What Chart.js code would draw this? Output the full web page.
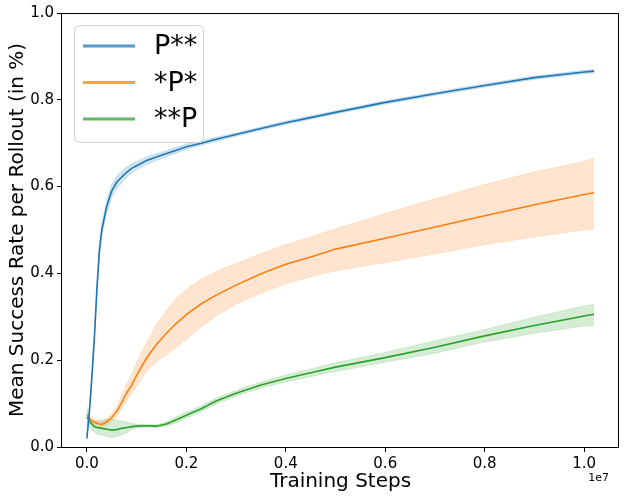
<!DOCTYPE html>
<html>
<head>
<meta charset="utf-8">
<title>Mean Success Rate per Rollout</title>
<script src="https://cdn.jsdelivr.net/npm/chart.js@4.4.1/dist/chart.umd.min.js"></script>
<style>
  html, body { margin: 0; padding: 0; background: #fff; }
  #chart { display: block; }
</style>
</head>
<body>
<canvas id="chart" width="626" height="500"></canvas>
<script>
/* ---------------------------------------------
# DATA
--------------------------------------------- */

const seriesNames = ['P**', '*P*', '**P'];

// training steps (raw)
const steps = [0, 50000, 100000, 150000, 200000, 250000, 300000, 400000, 500000, 600000,
    700000, 800000, 900000, 1000000, 1200000, 1400000, 1600000, 1800000, 2000000, 2300000,
    2600000, 3000000, 3500000, 4000000, 4500000, 5000000, 6000000, 7000000, 8000000,
    9000000, 10000000, 10200000];

// P**
const pMean = [0.02, 0.08, 0.16, 0.25, 0.36, 0.45, 0.50, 0.555, 0.59, 0.61, 0.622, 0.633, 0.642, 0.648,
    0.66, 0.668, 0.676, 0.684, 0.692, 0.70, 0.709, 0.72, 0.734, 0.747, 0.759, 0.771, 0.794, 0.814,
    0.833, 0.851, 0.864, 0.866];
const pHigh = [0.025, 0.09, 0.175, 0.265, 0.375, 0.465, 0.515, 0.57, 0.605, 0.625, 0.636, 0.645, 0.653, 0.658,
    0.669, 0.676, 0.683, 0.691, 0.698, 0.705, 0.714, 0.724, 0.738, 0.751, 0.763, 0.775, 0.798, 0.818,
    0.837, 0.855, 0.868, 0.87];
const pLow = [0.015, 0.07, 0.145, 0.235, 0.345, 0.435, 0.485, 0.54, 0.575, 0.595, 0.608, 0.621, 0.631, 0.638,
    0.651, 0.66, 0.669, 0.677, 0.686, 0.695, 0.704, 0.716, 0.73, 0.743, 0.755, 0.767, 0.79, 0.81,
    0.829, 0.847, 0.86, 0.862];

// *P*
const mMean = [0.075, 0.065, 0.06, 0.057, 0.055, 0.053, 0.052, 0.058, 0.068, 0.082, 0.102, 0.125, 0.142, 0.165,
    0.205, 0.236, 0.262, 0.285, 0.305, 0.33, 0.35, 0.373, 0.399, 0.421, 0.438, 0.456, 0.481, 0.507,
    0.533, 0.558, 0.582, 0.586];
const mHigh = [0.095, 0.075, 0.068, 0.064, 0.062, 0.06, 0.058, 0.065, 0.078, 0.094, 0.118, 0.145, 0.166, 0.195,
    0.24, 0.282, 0.315, 0.343, 0.363, 0.387, 0.405, 0.423, 0.446, 0.466, 0.484, 0.503, 0.538, 0.572,
    0.605, 0.634, 0.658, 0.666];
const mLow = [0.055, 0.055, 0.052, 0.05, 0.048, 0.047, 0.046, 0.051, 0.06, 0.07, 0.088, 0.108, 0.122, 0.14,
    0.175, 0.196, 0.213, 0.229, 0.248, 0.277, 0.302, 0.329, 0.354, 0.376, 0.392, 0.406, 0.425, 0.445,
    0.466, 0.484, 0.50, 0.502];

// **P
const eMean = [0.07, 0.06, 0.053, 0.047, 0.045, 0.044, 0.043, 0.041, 0.039, 0.04, 0.043, 0.045, 0.047, 0.048,
    0.049, 0.048, 0.053, 0.063, 0.073, 0.088, 0.106, 0.124, 0.143, 0.158, 0.171, 0.184, 0.206, 0.23,
    0.256, 0.28, 0.302, 0.306];
const eHigh = [0.085, 0.07, 0.063, 0.06, 0.06, 0.061, 0.062, 0.064, 0.064, 0.062, 0.06, 0.057, 0.054, 0.053,
    0.052, 0.051, 0.058, 0.07, 0.08, 0.095, 0.113, 0.131, 0.15, 0.166, 0.18, 0.194, 0.218, 0.245,
    0.271, 0.299, 0.325, 0.329];
const eLow = [0.05, 0.048, 0.04, 0.035, 0.03, 0.028, 0.027, 0.024, 0.022, 0.024, 0.028, 0.033, 0.04, 0.044,
    0.046, 0.045, 0.048, 0.056, 0.066, 0.081, 0.099, 0.117, 0.136, 0.15, 0.162, 0.174, 0.195, 0.216,
    0.242, 0.262, 0.279, 0.28];

const xTicks = [0, 2000000, 4000000, 6000000, 8000000, 10000000];
const yTicks = [0, 0.2, 0.4, 0.6, 0.8, 1.0];

/* ---------------------------------------------
# CHART
--------------------------------------------- */

const FONT = "'DejaVu Sans', sans-serif";
const rgb = [[31, 119, 180], [255, 127, 14], [44, 160, 44]];
const col = (c, a) => `rgba(${c[0]}, ${c[1]}, ${c[2]}, ${a})`;

function pts(ys) {
    return steps.map((s, i) => ({ x: s, y: ys[i] }));
}

const means = [pMean, mMean, eMean];
const highs = [pHigh, mHigh, eHigh];
const lows = [pLow, mLow, eLow];

const datasets = [];
// lines first -> drawn on top
for (let i = 0; i < 3; i++) {
    datasets.push({
        label: seriesNames[i],
        data: pts(means[i]),
        borderColor: col(rgb[i], 1),
        borderWidth: 1.6,
        pointRadius: 0,
        fill: false
    });
}
// bands: upper edge, then lower edge filled up to it
for (let i = 0; i < 3; i++) {
    const hiIdx = datasets.length;
    datasets.push({
        label: seriesNames[i] + ' high',
        data: pts(highs[i]),
        borderColor: col(rgb[i], 0.15),
        borderWidth: 1,
        pointRadius: 0,
        fill: false
    });
    datasets.push({
        label: seriesNames[i] + ' low',
        data: pts(lows[i]),
        borderColor: col(rgb[i], 0.15),
        borderWidth: 1,
        pointRadius: 0,
        backgroundColor: col(rgb[i], 0.2),
        fill: hiIdx
    });
}

const framePlugin = {
    id: 'frame',
    afterDraw(chart) {
        const { ctx, chartArea: a } = chart;
        ctx.save();
        // axes box
        ctx.strokeStyle = '#000';
        ctx.lineWidth = 1;
        ctx.strokeRect(a.left - 0.5, a.top + 0.5, a.right - a.left, a.bottom - a.top);

        // offset text
        ctx.fillStyle = '#000';
        ctx.font = `11px ${FONT}`;
        ctx.textAlign = 'right';
        ctx.textBaseline = 'middle';
        ctx.fillText('1e7', a.right - 10, 478);

        // legend
        const lx = 74.5, ly = 25.5, lw = 129, lh = 117;
        ctx.beginPath();
        if (ctx.roundRect) ctx.roundRect(lx, ly, lw, lh, 5);
        else ctx.rect(lx, ly, lw, lh);
        ctx.fillStyle = 'rgba(255, 255, 255, 0.8)';
        ctx.fill();
        ctx.strokeStyle = 'rgba(204, 204, 204, 0.9)';
        ctx.lineWidth = 1;
        ctx.stroke();

        ctx.font = `27px ${FONT}`;
        ctx.textAlign = 'left';
        ctx.textBaseline = 'middle';
        for (let i = 0; i < seriesNames.length; i++) {
            const y = 46 + i * 36.5;
            ctx.strokeStyle = col(rgb[i], 0.75);
            ctx.lineWidth = 3;
            ctx.beginPath();
            ctx.moveTo(83, y);
            ctx.lineTo(135, y);
            ctx.stroke();
            ctx.fillStyle = '#000';
            ctx.fillText(seriesNames[i], 154, y + 1);
        }
        ctx.restore();
    }
};

const ctx = document.getElementById('chart').getContext('2d');
const myChart = new Chart(ctx, {
    type: 'line',
    data: { datasets: datasets },
    options: {
        responsive: false,
        animation: false,
        layout: { padding: { top: 13, right: 7, left: 0, bottom: 0 } },
        plugins: {
            legend: { display: false },
            tooltip: { enabled: false },
            filler: { drawTime: 'beforeDatasetsDraw', propagate: false }
        },
        elements: { line: { tension: 0 } },
        scales: {
            x: {
                type: 'linear',
                min: -500000,
                max: 10700000,
                afterBuildTicks: (s) => { s.ticks = xTicks.map(v => ({ value: v })); },
                afterFit: (s) => { s.height = 53; },
                border: { display: false },
                grid: { drawOnChartArea: false, drawTicks: true, tickLength: 5, color: '#000' },
                ticks: {
                    color: '#000',
                    font: { family: FONT, size: 15 },
                    padding: 3,
                    maxRotation: 0,
                    callback: (v) => (v / 1e7).toFixed(1)
                },
                title: {
                    display: true,
                    text: 'Training Steps',
                    color: '#000',
                    font: { family: FONT, size: 20 },
                    padding: { top: 0, bottom: 6 }
                }
            },
            y: {
                min: 0,
                max: 1,
                afterBuildTicks: (s) => { s.ticks = yTicks.map(v => ({ value: v })); },
                afterFit: (s) => { s.width = 62; },
                border: { display: false },
                grid: { drawOnChartArea: false, drawTicks: true, tickLength: 5, color: '#000' },
                ticks: {
                    color: '#000',
                    font: { family: FONT, size: 15 },
                    padding: 3,
                    callback: (v) => v.toFixed(1)
                },
                title: {
                    display: true,
                    text: 'Mean Success Rate per Rollout (in %)',
                    color: '#000',
                    font: { family: FONT, size: 20 },
                    padding: { top: 6, bottom: 0 }
                }
            }
        }
    },
    plugins: [framePlugin]
});
</script>
</body>
</html>
